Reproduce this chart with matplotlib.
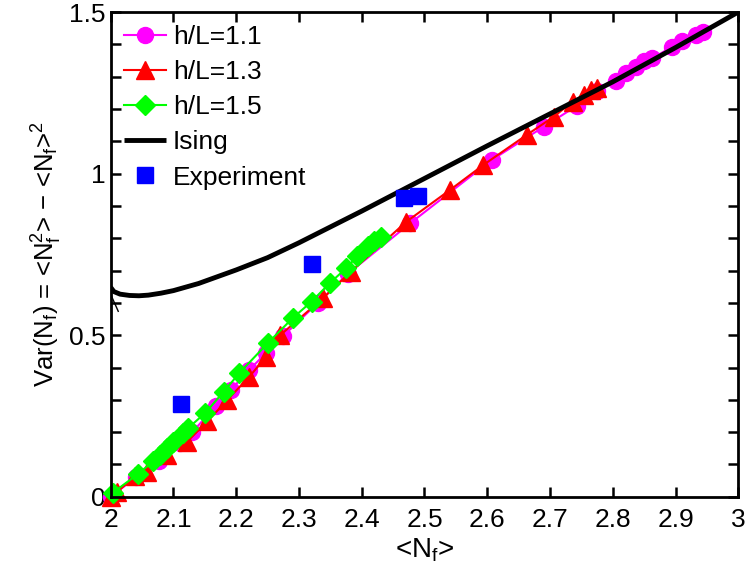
import matplotlib
matplotlib.use("Agg")
import matplotlib.pyplot as plt
import numpy as np

plt.rcParams['font.family'] = ['Liberation Sans', 'DejaVu Sans']
plt.rcParams['mathtext.fontset'] = 'custom'
plt.rcParams['mathtext.rm'] = 'Liberation Sans'
plt.rcParams['mathtext.it'] = 'Liberation Sans:italic'
plt.rcParams['mathtext.bf'] = 'Liberation Sans:bold'

# ---- data ----
x_11 = [2.0, 2.04, 2.077, 2.11, 2.13, 2.167, 2.191, 2.221, 2.247, 2.274, 2.33, 2.378,
        2.477, 2.607, 2.69, 2.743, 2.775, 2.805, 2.821, 2.837, 2.85, 2.863, 2.895,
        2.911, 2.933, 2.944]
y_11 = [0.0, 0.06, 0.11, 0.165, 0.2, 0.28, 0.33, 0.393, 0.444, 0.496, 0.6, 0.69,
        0.846, 1.042, 1.145, 1.21, 1.255, 1.287, 1.311, 1.331, 1.347, 1.357, 1.393,
        1.409, 1.429, 1.439]

x_13 = [2.0, 2.01, 2.039, 2.058, 2.09, 2.122, 2.154, 2.186, 2.221, 2.248, 2.27, 2.338,
        2.383, 2.471, 2.541, 2.594, 2.663, 2.706, 2.736, 2.754, 2.765, 2.775]
y_13 = [0.0, 0.015, 0.063, 0.078, 0.13, 0.171, 0.233, 0.3, 0.372, 0.434, 0.5, 0.614,
        0.697, 0.851, 0.95, 1.027, 1.12, 1.176, 1.223, 1.243, 1.259, 1.264]

x_15 = [2.003, 2.043, 2.068, 2.078, 2.09, 2.1, 2.115, 2.123, 2.151, 2.18, 2.205, 2.25,
        2.29, 2.32, 2.349, 2.375, 2.393, 2.41, 2.42, 2.43]
y_15 = [0.012, 0.07, 0.11, 0.13, 0.15, 0.17, 0.197, 0.212, 0.26, 0.325, 0.383, 0.475,
        0.553, 0.604, 0.661, 0.707, 0.745, 0.775, 0.79, 0.805]

x_ising = [2.0, 2.005, 2.015, 2.03, 2.045, 2.06, 2.08, 2.1, 2.14, 2.2, 2.25, 2.3, 2.35,
           2.4, 2.5, 2.6, 2.7, 2.8, 2.9, 3.0]
y_ising = [0.648, 0.635, 0.627, 0.623, 0.622, 0.624, 0.630, 0.638, 0.660, 0.702, 0.740,
           0.786, 0.835, 0.884, 0.985, 1.086, 1.185, 1.284, 1.39, 1.5]
x_spur = [2.001, 2.012]
y_spur = [0.622, 0.574]

x_exp = [2.112, 2.320, 2.468, 2.490]
y_exp = [0.288, 0.721, 0.925, 0.930]

labels = ['h/L=1.1', 'h/L=1.3', 'h/L=1.5', 'Ising', 'Experiment']
xticks = [2, 2.1, 2.2, 2.3, 2.4, 2.5, 2.6, 2.7, 2.8, 2.9, 3]
xticklabels = ['2', '2.1', '2.2', '2.3', '2.4', '2.5', '2.6', '2.7', '2.8', '2.9', '3']
yticks = [0, 0.5, 1, 1.5]
yticklabels = ['0', '0.5', '1', '1.5']

# ---- figure ----
fig = plt.figure(figsize=(7.48, 5.73), dpi=100)
ax = fig.add_axes([0.148, 0.133, 0.839, 0.846])

ax.plot(x_11, y_11, '-o', color='#ff00ff', lw=1.5, ms=11.5, mec='#ff00ff',
        mfc='#ff00ff', label=labels[0], clip_on=False)
ax.plot(x_13, y_13, '-^', color='#ff0000', lw=1.5, ms=12.5, mec='#ff0000',
        mfc='#ff0000', label=labels[1], clip_on=False)
ax.plot(x_15, y_15, '-D', color='#00ff00', lw=1.5, ms=10.5, mec='#00ff00',
        mfc='#00ff00', label=labels[2], clip_on=False)
ax.plot(x_ising, y_ising, '-', color='black', lw=3.5, label=labels[3],
        solid_capstyle='butt')
ax.plot(x_spur, y_spur, '-', color='black', lw=1.0)
ax.plot(x_exp, y_exp, 's', color='#0000ff', ms=12, mec='#0000ff', mfc='#0000ff',
        label=labels[4], clip_on=False)

ax.set_xlim(2, 3)
ax.set_ylim(0, 1.5)
ax.set_xticks(xticks)
ax.set_xticklabels(xticklabels)
ax.set_yticks(yticks)
ax.set_yticklabels(yticklabels)
ax.set_yticks(np.arange(0, 1.51, 0.1), minor=True)

for s in ax.spines.values():
    s.set_linewidth(2.0)
ax.tick_params(which='both', direction='in', top=True, right=True, width=1.8)
ax.tick_params(which='major', length=7)
ax.tick_params(which='minor', length=7)
ax.tick_params(axis='x', labelsize=19, pad=8)
ax.tick_params(axis='y', labelsize=19, pad=4)

ax.set_xlabel(r'<N$_\mathregular{f}$>', fontsize=20, labelpad=3)
ax.set_ylabel(r'Var(N$_\mathregular{f}$) = <N$_\mathregular{f}^\mathregular{2}$> $-$ <N$_\mathregular{f}$>$^\mathregular{2}$',
              fontsize=18.5, labelpad=3)

leg = ax.legend(loc='upper left', frameon=False, fontsize=19, handlelength=1.6,
                handletextpad=0.25, labelspacing=0.42, borderaxespad=0.3,
                numpoints=1, borderpad=0.2)

fig.savefig('out.png', dpi=100)
